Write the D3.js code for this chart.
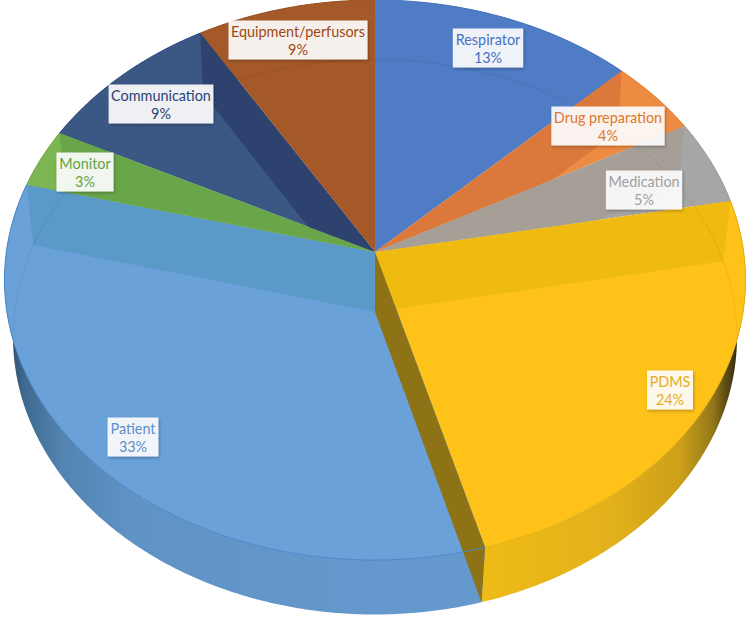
<!DOCTYPE html>
<html>
<head>
<meta charset="utf-8">
<script src="https://cdn.jsdelivr.net/npm/d3@7"></script>
<style>
    html, body { margin: 0; padding: 0; background: #ffffff; }
    svg { display: block; }
</style>
</head>
<body>
<div id="chart"></div>
<script>
// Data (percent of total)
const categories = ["Respirator", "Drug preparation", "Medication", "PDMS", "Patient", "Monitor", "Communication", "Equipment/perfusors"];
const shares = [12.7, 4.4, 4.9, 23.65, 33.35, 3.4, 9, 8.6];
const percentLabels = ["13%", "4%", "5%", "24%", "33%", "3%", "9%", "9%"];

// Colours of each slice
const topColors = ["#4f7cc5", "#ee8b42", "#a6a6a6", "#fec219", "#6aa1d9", "#7cb552", "#3b5885", "#a55928"];
const wallColors = ["#4f7cc5", "#da793b", "#a69f98", "#f0bb10", "#5a99c8", "#69a64a", "#2e4270", "#a55928"];
const textColors = ["#4472c4", "#e2762e", "#a0a0a0", "#e6ae24", "#5b8fc9", "#62a344", "#2b4474", "#9e480e"];
const rimColors = ["#4a76bf", "#e08238", "#9c9c9c", "#e8b010", "#4a87c8", "#72ab49", "#35507e", "#9a5224"];

// Centre of each label box
const labelCenters = [[488, 48], [608, 126], [644, 190], [670, 390], [133, 437], [85, 172], [161, 104], [298, 40]];

const width = 749;
const height = 619;

const svg = d3.select("#chart")
    .append("svg")
        .attr("width", width)
        .attr("height", height);

const defs = svg.append("defs");

// Top face and bottom face of the pie, seen in perspective
const topFace = { cx: 375, cy: 280, rx: 370.5, ry: 280, k: -0.1 };
const bottomFace = { cx: 375, cy: 337, rx: 362, ry: 277.5, k: -0.09 };

const xOf = face => d3.scaleLinear().domain([-1, 1]).range([face.cx - face.rx, face.cx + face.rx]);
const yOf = face => d3.scaleLinear().domain([-1, 1]).range([face.cy - face.ry, face.cy + face.ry]);

// Point on a face, r is 0 at the centre of the pie and 1 on the rim
const project = (face, angle, r) => {
    const u = Math.sin(angle) * r;
    const v = -Math.cos(angle) * r;
    const d = 1 + face.k * v;
    return [
        xOf(face)(u * Math.sqrt(1 - face.k * face.k) / d),
        yOf(face)((v + face.k) / d)
    ];
};

const rimPoints = (face, a0, a1) => {
    const n = Math.max(2, Math.ceil((a1 - a0) / 0.01));
    return d3.range(n + 1).map(i => project(face, a0 + (a1 - a0) * i / n, 1));
};

const line = d3.line();
const closed = pts => line(pts) + "Z";

const slices = d3.pie().sort(null)(shares);

const topPath = d => closed([project(topFace, 0, 0), ...rimPoints(topFace, d.startAngle, d.endAngle)]);
const sidePath = d => closed([...rimPoints(topFace, d.startAngle, d.endAngle), ...rimPoints(bottomFace, d.startAngle, d.endAngle).reverse()]);
const wallPath = angle => closed([project(topFace, 0, 0), project(topFace, angle, 1), project(bottomFace, angle, 1), project(bottomFace, 0, 0)]);

// Shading of the outer side, dark where it turns away
const addGradient = (id, stops) => {
    const g = defs.append("linearGradient")
        .attr("id", id)
        .attr("gradientUnits", "userSpaceOnUse")
        .attr("x1", 0).attr("y1", 0)
        .attr("x2", width).attr("y2", 0);
    g.selectAll("stop").data(stops).join("stop")
        .attr("offset", d => d[0] / width)
        .attr("stop-color", d => d[1]);
};
addGradient("sidePatient", [[8, "#2f4c68"], [25, "#3f6a90"], [60, "#5283b0"], [130, "#5f93c6"], [375, "#6598cc"]]);
addGradient("sidePdms", [[483, "#eebb16"], [610, "#e3b11b"], [680, "#cda019"], [712, "#95791a"], [735, "#3a3110"]]);

const shadow = defs.append("filter").attr("id", "labelShadow")
    .attr("x", "-20%").attr("y", "-20%").attr("width", "140%").attr("height", "150%");
shadow.append("feDropShadow")
    .attr("dx", 1).attr("dy", 1.5).attr("stdDeviation", 1.5)
    .attr("flood-color", "#000").attr("flood-opacity", 0.3);

defs.selectAll("clipPath.slice").data(slices).join("clipPath")
    .attr("class", "slice")
    .attr("id", (d, i) => "slice" + i)
    .append("path")
        .attr("d", topPath);

defs.append("clipPath").attr("id", "topClip")
    .append("path")
        .attr("d", closed(rimPoints(topFace, 0, 2 * Math.PI)));

// Outer sides
svg.append("g").selectAll("path").data(slices).join("path")
    .attr("d", sidePath)
    .attr("fill", (d, i) => i === 3 ? "url(#sidePdms)" : i === 4 ? "url(#sidePatient)" : topColors[i]);

// Top faces
svg.append("g").selectAll("path").data(slices).join("path")
    .attr("d", topPath)
    .attr("fill", (d, i) => topColors[i]);

// Inner walls showing through the top of each slice
svg.append("g").selectAll("path").data(slices).join("path")
    .attr("d", d => wallPath((d.startAngle + d.endAngle) / 2 < Math.PI ? d.startAngle : d.endAngle))
    .attr("clip-path", (d, i) => `url(#slice${i})`)
    .attr("fill", (d, i) => wallColors[i]);

// Back edge of the bottom face showing through
svg.append("path")
    .attr("d", line(rimPoints(bottomFace, -2.1, 2.1)))
    .attr("clip-path", "url(#topClip)")
    .attr("fill", "none")
    .attr("stroke", "#000")
    .attr("stroke-opacity", 0.05)
    .attr("stroke-width", 1.2);

// Wall between PDMS and Patient, facing the viewer
svg.append("path")
    .attr("d", wallPath(slices[3].endAngle))
    .attr("fill", "#8d7216");

// Rim lines
svg.append("g").selectAll("path").data(slices).join("path")
    .attr("d", d => line(rimPoints(topFace, d.startAngle, d.endAngle)))
    .attr("fill", "none")
    .attr("stroke", (d, i) => rimColors[i])
    .attr("stroke-width", 1);

// Labels
const label = svg.append("g").selectAll("g").data(categories).join("g")
    .attr("transform", (d, i) => `translate(${labelCenters[i][0]}, ${labelCenters[i][1]})`);

const box = label.append("rect")
    .attr("fill", "#ffffff")
    .attr("fill-opacity", 0.9)
    .attr("filter", "url(#labelShadow)");

label.append("text")
    .attr("text-anchor", "middle")
    .style("font-family", "Lato, 'Open Sans', sans-serif")
    .style("font-size", "14.4px")
    .style("fill", (d, i) => textColors[i])
    .selectAll("tspan")
    .data((d, i) => [d, percentLabels[i]])
    .join("tspan")
        .attr("x", 0)
        .attr("y", (d, i) => i === 0 ? -3.5 : 15)
        .text(d => d);

box.each(function () {
    const w = this.parentNode.querySelector("text").getBBox().width + 5;
    d3.select(this)
        .attr("x", -w / 2)
        .attr("y", -19.5)
        .attr("width", w)
        .attr("height", 39);
});
</script>
</body>
</html>
